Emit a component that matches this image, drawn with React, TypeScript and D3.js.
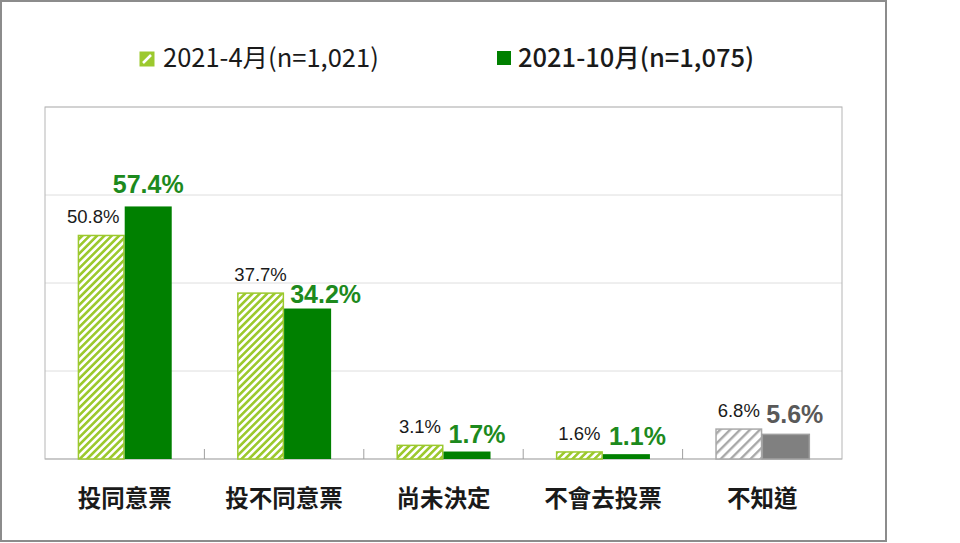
import React from "react";
import * as d3 from "d3";

const categories = ["投同意票", "投不同意票", "尚未決定", "不會去投票", "不知道"];
const seriesNames = ["2021-4月(n=1,021)", "2021-10月(n=1,075)"];
const aprilValues = [50.8, 37.7, 3.1, 1.6, 6.8];
const octoberValues = [57.4, 34.2, 1.7, 1.1, 5.6];
const yTicks = [0, 20, 40, 60, 80];

const W = 960;
const H = 543;
const plot = { left: 45, top: 107, right: 842, bottom: 459 };

const GREEN_LIGHT = "#9cc92e";
const GREEN_DARK = "#008000";
const GREEN_LABEL = "#1d8a1d";
const GRAY_HATCH = "#a9a9a9";
const GRAY_DARK = "#808080";

// manual label nudges (the source chart's labels were dragged sideways / vertically)
const aprLabelDx = [-8, 0, 0, 0, 0];
const octLabelDx = [0, 18, 10, 11, 9];
const octLabelDy = [-13, -6, -9, -9, -11];

export default function App() {
  const x0 = d3.scaleBand<string>().domain(categories).range([plot.left, plot.right]).padding(0);
  const pairW = x0.bandwidth() * 0.59;
  const x1 = d3.scaleBand<string>().domain(["apr", "oct"]).range([0, pairW]).padding(0);
  const y = d3.scaleLinear().domain([0, 80]).range([plot.bottom, plot.top]);

  const isGray = (i: number) => categories[i] === "不知道";
  const labelFont = "'Liberation Sans', Arial, sans-serif";
  const cjkFont = "'Noto Sans CJK TC', 'Noto Sans', sans-serif";

  return (
    <svg
      width={W}
      height={H}
      style={{ position: "absolute", left: 0, top: 0, background: "#fff" }}
    >
      <defs>
        <pattern id="hatchGreen" patternUnits="userSpaceOnUse" width="5.2" height="5.2" patternTransform="rotate(45)">
          <rect width="5.2" height="5.2" fill="#fff" />
          <rect width="2.6" height="5.2" fill={GREEN_LIGHT} />
        </pattern>
        <pattern id="hatchGray" patternUnits="userSpaceOnUse" width="7" height="7" patternTransform="rotate(45)">
          <rect width="7" height="7" fill="#fff" />
          <rect width="2.4" height="7" fill={GRAY_HATCH} />
        </pattern>
      </defs>

      {/* outer frame */}
      <rect x={1} y={1} width={885} height={540} fill="#fff" stroke="#8c8c8c" strokeWidth={2} />

      {/* gridlines */}
      {yTicks.map((t) => (
        <line
          key={t}
          x1={plot.left}
          x2={plot.right}
          y1={y(t)}
          y2={y(t)}
          stroke={t === 0 ? "#bdbdbd" : "#dedede"}
          strokeWidth={1}
        />
      ))}
      {/* plot border */}
      <rect
        x={plot.left}
        y={plot.top}
        width={plot.right - plot.left}
        height={plot.bottom - plot.top}
        fill="none"
        stroke="#b5b5b5"
        strokeWidth={1}
      />
      {/* category ticks */}
      {categories.slice(1).map((c) => (
        <line
          key={c}
          x1={x0(c)!}
          x2={x0(c)!}
          y1={plot.bottom}
          y2={plot.bottom - 10}
          stroke="#a0a0a0"
        />
      ))}

      {/* bars */}
      {categories.map((c, i) => {
        const base = x0(c)! + (x0.bandwidth() - pairW) / 2;
        const gray = isGray(i);
        const xa = base + x1("apr")!;
        const xo = base + x1("oct")!;
        const ya = y(aprilValues[i]);
        const yo = y(octoberValues[i]);
        const bw = x1.bandwidth();
        return (
          <g key={c}>
            <rect
              x={xa + 0.75}
              y={ya}
              width={bw - 1.5}
              height={y(0) - ya}
              fill={gray ? "url(#hatchGray)" : "url(#hatchGreen)"}
              stroke={gray ? GRAY_HATCH : GREEN_LIGHT}
              strokeWidth={1.5}
            />
            <rect
              x={xo}
              y={yo}
              width={bw}
              height={y(0) - yo}
              fill={gray ? GRAY_DARK : GREEN_DARK}
              stroke={gray ? "#a0a0a0" : GREEN_DARK}
              strokeWidth={gray ? 1.5 : 0}
            />
            <text
              x={xa + bw / 2 + aprLabelDx[i]}
              y={ya - 12}
              textAnchor="middle"
              fontFamily={labelFont}
              fontSize={18.5}
              fill="#1a1a1a"
            >
              {aprilValues[i].toFixed(1)}%
            </text>
            <text
              x={xo + bw / 2 + octLabelDx[i]}
              y={yo + octLabelDy[i]}
              textAnchor="middle"
              fontFamily={labelFont}
              fontSize={25}
              fontWeight="bold"
              fill={gray ? "#595959" : GREEN_LABEL}
            >
              {octoberValues[i].toFixed(1)}%
            </text>
            <text
              x={x0(c)! + x0.bandwidth() / 2}
              y={507}
              textAnchor="middle"
              fontFamily={cjkFont}
              fontSize={23.5}
              fontWeight="bold"
              fill="#1a1a1a"
            >
              {c}
            </text>
          </g>
        );
      })}

      {/* legend */}
      <g>
        <rect x={140} y={52} width={14} height={14} fill={GREEN_LIGHT} stroke={GREEN_LIGHT} strokeWidth={1} />
        <line x1={143} y1={63} x2={151} y2={55} stroke="#fff" strokeWidth={2.5} />
        <text x={163} y={67} fontFamily={cjkFont} fontSize={25.5} fill="#1a1a1a">
          {seriesNames[0]}
        </text>
        <rect x={497} y={51} width={14} height={14} fill={GREEN_DARK} />
        <text x={518} y={67} fontFamily={cjkFont} fontSize={25.5} fontWeight={500} fill="#1a1a1a">
          {seriesNames[1]}
        </text>
      </g>
    </svg>
  );
}
